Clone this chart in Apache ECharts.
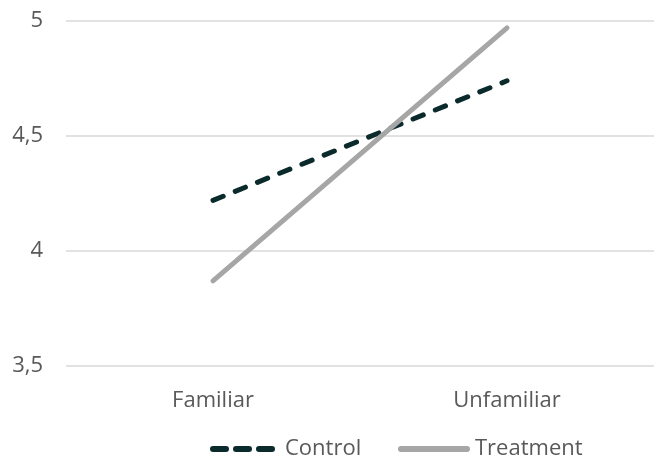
<!DOCTYPE html>
<html><head><meta charset="utf-8">
<script src="https://cdn.jsdelivr.net/npm/echarts@6/dist/echarts.min.js"></script>
<style>html,body{margin:0;padding:0;background:#fff}#c{width:654px;height:459px}</style>
</head><body><div id="c"></div>
<script>
const categories = ['Familiar', 'Unfamiliar'];
const controlValues = [4.22, 4.74];
const treatmentValues = [3.87, 4.97];
const yTicks = [3.5, 4, 4.5, 5];

const FONT = '"Open Sans", sans-serif';
const TXT = '#595959';
const CTRL = '#0b2a2b';
const TREAT = '#a6a6a6';
const chart = echarts.init(document.getElementById('c'), null, {renderer: 'canvas'});
chart.setOption({
  animation: false,
  textStyle: {fontFamily: FONT},
  grid: {left: 66, top: 21, width: 598, bottom: 93, containLabel: false},
  legend: [
    {data: ['Control'], left: 210, top: 438, padding: 0, itemWidth: 59, itemHeight: 14,
     itemStyle: {opacity: 0},
     lineStyle: {color: CTRL, width: 6, type: [13, 10], cap: 'round'},
     textStyle: {color: TXT, fontSize: 22, fontFamily: FONT, padding: [0, 0, 0, 8]}},
    {data: ['Treatment'], left: 398, top: 438, padding: 0, itemWidth: 66, itemHeight: 14,
     itemStyle: {opacity: 0},
     lineStyle: {color: TREAT, width: 6, cap: 'round'},
     textStyle: {color: TXT, fontSize: 22, fontFamily: FONT, padding: [0, 0, 0, 3]}}
  ],
  xAxis: {
    type: 'category', data: categories, boundaryGap: true,
    axisLine: {show: false}, axisTick: {show: false},
    axisLabel: {color: TXT, fontSize: 22, margin: 24, fontFamily: FONT}
  },
  yAxis: {
    type: 'value', min: yTicks[0], max: yTicks[yTicks.length - 1], interval: 0.5,
    axisLine: {show: false}, axisTick: {show: false},
    axisLabel: {color: TXT, fontSize: 22, margin: 23, fontFamily: FONT,
      formatter: v => String(v).replace('.', ',')},
    splitLine: {lineStyle: {color: '#d9d9d9', width: 1.5}}
  },
  series: [
    {name: 'Control', type: 'line', data: controlValues, symbol: 'none',
     lineStyle: {color: CTRL, width: 5, type: [11, 13], cap: 'round'},
     itemStyle: {color: CTRL}},
    {name: 'Treatment', type: 'line', data: treatmentValues, symbol: 'none',
     lineStyle: {color: TREAT, width: 5, cap: 'round'},
     itemStyle: {color: TREAT}}
  ]
});
</script></body></html>
